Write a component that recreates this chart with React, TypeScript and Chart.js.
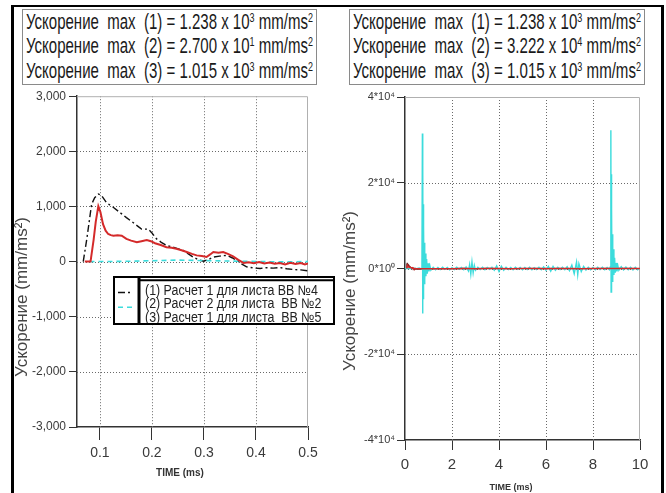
import React, { useEffect, useLayoutEffect, useRef } from 'react';
import { Chart, registerables } from 'chart.js';

Chart.register(...registerables);

// ---------------- Left panel data (TIME, ms / acceleration, mm/ms^2) ----------------
const L_TIME_1 = [0.068, 0.075, 0.084, 0.090, 0.097, 0.103, 0.113, 0.125, 0.140, 0.151, 0.165, 0.180, 0.193, 0.200, 0.209, 0.218, 0.228, 0.245, 0.260, 0.270, 0.279, 0.290, 0.299, 0.309, 0.318, 0.330, 0.344, 0.354, 0.363, 0.372, 0.382, 0.395, 0.408, 0.420, 0.433, 0.446, 0.459, 0.472, 0.486, 0.500];
const L_ACC_1 = [0, 420, 1036, 1160, 1226, 1200, 1065, 990, 880, 798, 700, 589, 589, 520, 411, 350, 292, 250, 202, 140, 83, 30, 6, 40, 83, 100, 113, 70, 24, -40, -95, -115, -125, -110, -118, -107, -130, -143, -150, -167];

const L_TIME_2 = [0.080, 0.150, 0.250, 0.350, 0.450, 0.500];
const L_ACC_2 = [0, 5, 27, 10, -5, 0];

const L_TIME_3 = [0.071, 0.082, 0.088, 0.092, 0.097, 0.101, 0.106, 0.111, 0.116, 0.121, 0.126, 0.134, 0.142, 0.151, 0.160, 0.171, 0.180, 0.190, 0.198, 0.206, 0.217, 0.228, 0.238, 0.247, 0.257, 0.267, 0.277, 0.286, 0.296, 0.305, 0.312, 0.318, 0.328, 0.337, 0.346, 0.356, 0.366, 0.376, 0.386, 0.396, 0.406, 0.416, 0.426, 0.436, 0.446, 0.456, 0.466, 0.476, 0.486, 0.494, 0.500];
const L_ACC_3 = [0, 0, 400, 720, 1005, 900, 679, 560, 500, 480, 470, 480, 470, 411, 380, 351, 370, 393, 370, 333, 300, 262, 250, 232, 205, 173, 140, 113, 100, 83, 130, 173, 160, 173, 140, 95, 30, -24, -10, -30, -6, -35, -15, -40, -24, -50, -20, -45, -25, -50, -36];

const L_X_TICKS = [0.1, 0.2, 0.3, 0.4, 0.5];
const L_X_LABELS = ['0.1', '0.2', '0.3', '0.4', '0.5'];
const L_Y_TICKS = [-3000, -2000, -1000, 0, 1000, 2000, 3000];
const L_Y_LABELS = ['-3,000', '-2,000', '-1,000', '0', '1,000', '2,000', '3,000'];

// ---------------- Right panel data (0–10 ms) ----------------
const R_TIME_1_TAIL = [0.6, 0.8, 1.0, 1.5, 2.0, 2.5, 3.0, 3.5, 4.0, 5.0, 6.0, 7.0, 8.0, 9.0, 10.0];
const R_ACC_1_TAIL = [-170, -140, -110, -60, -30, 20, -20, 10, -10, 0, 10, -10, 0, 10, 0];

const R_TIME_2 = [0.0, 0.1, 0.2, 0.3, 0.4, 0.5, 0.6, 0.7, 0.72, 0.74, 0.75, 0.76, 0.77, 0.78, 0.79, 0.80, 0.81, 0.83, 0.85, 0.87, 0.89, 0.92, 0.95, 0.98, 1.02, 1.06, 1.1, 1.2, 1.3, 1.4, 1.5, 1.6, 1.7, 1.8, 1.9, 2.0, 2.1, 2.2, 2.3, 2.4, 2.5, 2.6, 2.7, 2.75, 2.8, 2.85, 2.9, 2.95, 3.0, 3.1, 3.2, 3.3, 3.4, 3.5, 3.6, 3.7, 3.8, 3.9, 4.0, 4.1, 4.2, 4.3, 4.4, 4.5, 4.6, 4.7, 4.8, 4.9, 5.0, 5.1, 5.2, 5.3, 5.4, 5.5, 5.6, 5.7, 5.8, 5.9, 6.0, 6.1, 6.2, 6.3, 6.4, 6.5, 6.6, 6.7, 6.8, 6.9, 7.0, 7.1, 7.2, 7.3, 7.35, 7.4, 7.5, 7.6, 7.7, 7.8, 7.9, 8.0, 8.1, 8.2, 8.3, 8.4, 8.5, 8.6, 8.7, 8.74, 8.76, 8.77, 8.78, 8.79, 8.80, 8.81, 8.83, 8.85, 8.87, 8.89, 8.92, 8.95, 8.98, 9.02, 9.06, 9.1, 9.2, 9.3, 9.4, 9.5, 9.6, 9.7, 9.8, 9.9, 10.0];
const R_ACC_2 = [0, 0, 50, -50, 80, -60, 100, -100, 400, 31500, -10500, 24000, -7000, 15000, -5000, 10000, -3500, 6000, -2500, 3500, -1800, 2200, -1200, 1200, -700, 600, -400, 300, -300, 250, -250, 300, -200, 250, -300, 200, -250, 300, -200, 250, -300, 350, -600, 900, -1300, 1500, -1000, 700, -400, 300, -250, 300, -300, 250, -200, 300, -400, 600, -700, 500, -400, 300, -250, 250, -300, 300, -200, 250, -300, 250, -250, 300, -300, 200, -250, 300, -300, 350, -400, 500, -600, 500, -400, 300, -250, 300, -300, 400, -500, 800, -1200, 1500, -1400, 1100, -700, 500, -350, 300, -300, 250, -300, 300, -250, 300, -300, 250, -300, 400, 32220, -5500, 22000, -4000, 14000, -3000, 8000, -2000, 4500, -1500, 2500, -1000, 1300, -700, 600, -400, 400, -300, 350, -300, 300, -350, 300, -300, 200];

const R_TIME_3_TAIL = [0.6, 0.8, 1.0, 1.5, 2.0, 2.5, 3.0, 3.5, 4.0, 4.5, 5.0, 5.5, 6.0, 6.5, 7.0, 7.5, 8.0, 8.5, 9.0, 9.5, 10.0];
const R_ACC_3_TAIL = [-40, -60, -50, -30, -40, -20, -30, -10, -20, -30, -10, -20, -30, -10, -20, -30, -10, -20, -10, -20, -10];

const R_X_TICKS = [0, 2, 4, 6, 8, 10];
const R_X_LABELS = ['0', '2', '4', '6', '8', '10'];
const R_Y_TICKS = [-40000, -20000, 0, 20000, 40000];
const R_Y_LABELS = ['-4*10⁴', '-2*10⁴', '0*10⁰', '2*10⁴', '4*10⁴'];

const SERIES_LABELS = ['(1) Расчет 1 для листа ВВ №4', '(2) Расчет 2 для листа  ВВ №2', '(3) Расчет 1 для листа  ВВ №5'];
const MAX_LEFT = [['1', '1.238', '3'], ['2', '2.700', '1'], ['3', '1.015', '3']];
const MAX_RIGHT = [['1', '1.238', '3'], ['2', '3.222', '4'], ['3', '1.015', '3']];

const Y_TITLE = 'Ускорение (mm/ms²)';
const X_TITLE = 'TIME (ms)';

// ---------------- styles ----------------
const REGULAR = "Arial, 'Liberation Sans', sans-serif";
const BLACK = '#111111';
const CYAN = '#3cdcdc';
const RED = '#d42a2a';

const pts = (t: number[], a: number[]) => t.map((x, i) => ({ x, y: a[i] }));

// light grey frame on top / right of plot + dotted inner grid
const framePlugin = {
  id: 'plotFrame',
  beforeDatasetsDraw(chart: any) {
    const { ctx, chartArea: a, scales } = chart;
    ctx.save();
    ctx.strokeStyle = '#6a6a6a';
    ctx.lineWidth = 1;
    ctx.setLineDash([1, 2]);
    scales.x.ticks.forEach((t: any) => {
      const px = Math.round(scales.x.getPixelForValue(t.value)) + 0.5;
      if (px <= a.left + 1 || px >= a.right - 1) return;
      ctx.beginPath();
      ctx.moveTo(px, a.top);
      ctx.lineTo(px, a.bottom);
      ctx.stroke();
    });
    scales.y.ticks.forEach((t: any) => {
      const py = Math.round(scales.y.getPixelForValue(t.value)) + 0.5;
      if (py <= a.top + 1 || py >= a.bottom - 1) return;
      ctx.beginPath();
      ctx.moveTo(a.left, py);
      ctx.lineTo(a.right, py);
      ctx.stroke();
    });
    ctx.setLineDash([]);
    ctx.strokeStyle = '#b0b0b0';
    ctx.beginPath();
    ctx.moveTo(a.left, a.top + 0.5);
    ctx.lineTo(a.right - 0.5, a.top + 0.5);
    ctx.lineTo(a.right - 0.5, a.bottom);
    ctx.stroke();
    ctx.restore();
  },
};

const titlesPlugin = {
  id: 'axisTitles',
  afterDraw(chart: any, _a: any, o: any) {
    const ctx = chart.ctx;
    ctx.save();
    ctx.fillStyle = '#444';
    ctx.textAlign = 'center';
    ctx.textBaseline = 'middle';
    ctx.translate(o.yx, o.yy);
    ctx.rotate(-Math.PI / 2);
    ctx.font = o.yFont;
    ctx.fillText(Y_TITLE, 0, 0);
    ctx.restore();
    ctx.save();
    ctx.fillStyle = '#333';
    ctx.textAlign = 'center';
    ctx.textBaseline = 'middle';
    ctx.font = o.xFont;
    ctx.fillText(X_TITLE, o.xx, o.xy);
    ctx.restore();
  },
};

const legendPlugin = {
  id: 'legendBox',
  afterDraw(chart: any, _a: any, o: any) {
    if (!o || !o.display) return;
    const ctx = chart.ctx;
    const { x, y, w, h, divX, textX, textW, baselines, swatchY, swatchX0, swatchX1 } = o;
    const datasets = chart.data.datasets;
    ctx.save();
    ctx.fillStyle = '#fff';
    ctx.fillRect(x, y, w, h);
    ctx.beginPath();
    ctx.rect(x + 2, y + 2, w - 4, h - 4);
    ctx.clip();
    ctx.font = `14px ${REGULAR}`;
    const m = ctx.measureText(datasets[0].label).width;
    const sx = m > 0 ? textW / m : 1;
    ctx.fillStyle = '#222';
    ctx.textBaseline = 'alphabetic';
    datasets.forEach((ds: any, i: number) => {
      ctx.save();
      ctx.translate(textX, baselines[i]);
      ctx.scale(sx, 1);
      ctx.fillText(ds.label, 0, 0);
      ctx.restore();
      const sy = swatchY[i];
      if (sy < y + h - 4) {
        ctx.save();
        ctx.strokeStyle = ds.borderColor;
        ctx.lineWidth = ds.borderWidth;
        ctx.setLineDash(ds.borderDash || []);
        ctx.beginPath();
        ctx.moveTo(swatchX0, sy);
        ctx.lineTo(swatchX1[i], sy);
        ctx.stroke();
        ctx.restore();
      }
    });
    ctx.restore();
    ctx.save();
    ctx.strokeStyle = '#000';
    ctx.lineWidth = 2;
    ctx.strokeRect(x + 1, y + 1, w - 2, h - 2);
    ctx.lineWidth = 3;
    ctx.beginPath();
    ctx.moveTo(divX, y);
    ctx.lineTo(divX, y + h);
    ctx.stroke();
    ctx.lineWidth = 2;
    ctx.beginPath();
    ctx.moveTo(divX, y + 4.3);
    ctx.lineTo(x + w - 1, y + 4.3);
    ctx.stroke();
    ctx.restore();
  },
};

function axisCommon(ticks: number[], labels: string[], font: any, tickLength: number, padding: number, fit: (s: any) => void) {
  return {
    type: 'linear',
    afterBuildTicks: (s: any) => {
      s.ticks = ticks.map((v) => ({ value: v }));
    },
    afterFit: fit,
    ticks: {
      callback: (_v: any, i: number) => labels[i],
      font,
      color: '#3a3a3a',
      padding,
      autoSkip: false,
      maxRotation: 0,
      minRotation: 0,
    },
    grid: { drawOnChartArea: false, color: '#333', tickColor: '#333', tickLength, lineWidth: 1, tickWidth: 1 },
    border: { color: '#333', width: 1.5 },
  };
}

function makeLeft(): any {
  return {
    type: 'line',
    data: {
      datasets: [
        { label: SERIES_LABELS[0], data: pts(L_TIME_1, L_ACC_1), borderColor: BLACK, borderWidth: 1.4, borderDash: [7, 3, 2, 3], pointRadius: 0, order: 3 },
        { label: SERIES_LABELS[1], data: pts(L_TIME_2, L_ACC_2), borderColor: CYAN, borderWidth: 1.6, borderDash: [5, 4], pointRadius: 0, order: 2 },
        { label: SERIES_LABELS[2], data: pts(L_TIME_3, L_ACC_3), borderColor: RED, borderWidth: 2, pointRadius: 0, order: 1 },
      ],
    },
    options: {
      animation: false,
      responsive: false,
      devicePixelRatio: 1,
      events: [],
      layout: { autoPadding: false, padding: { top: 5, right: 29, left: 0, bottom: 0 } },
      plugins: {
        legend: { display: false },
        tooltip: { enabled: false },
        axisTitles: { yx: 8, yy: 211, yFont: `17px ${REGULAR}`, xx: 166, xy: 387, xFont: `bold 10px ${REGULAR}` },
        legendBox: {
          display: true, x: 99, y: 190, w: 222, h: 49, divX: 125, textX: 131, textW: 173,
          baselines: [209, 222.3, 235.8], swatchY: [206.5, 221.3, 236.5], swatchX0: 104, swatchX1: [116, 119.5, 119.5],
        },
      },
      scales: {
        x: { ...axisCommon(L_X_TICKS, L_X_LABELS, { size: 14, family: REGULAR }, 13, 5, (s: any) => { s.height = 66; }), min: 0.056, max: 0.5 },
        y: { ...axisCommon(L_Y_TICKS, L_Y_LABELS, { size: 12, family: REGULAR }, 8, 3, (s: any) => { s.width = 63; }), min: -3000, max: 3000 },
      },
    },
    plugins: [framePlugin, titlesPlugin, legendPlugin],
  };
}

function makeRight(): any {
  return {
    type: 'line',
    data: {
      datasets: [
        { label: SERIES_LABELS[0], data: pts([...L_TIME_1, ...R_TIME_1_TAIL], [...L_ACC_1, ...R_ACC_1_TAIL]), borderColor: '#5a1a1a', borderWidth: 1.2, pointRadius: 0, order: 3 },
        { label: SERIES_LABELS[1], data: pts(R_TIME_2, R_ACC_2), borderColor: CYAN, borderWidth: 1.4, pointRadius: 0, order: 2 },
        { label: SERIES_LABELS[2], data: pts([...L_TIME_3, ...R_TIME_3_TAIL], [...L_ACC_3, ...R_ACC_3_TAIL]), borderColor: RED, borderWidth: 1.5, pointRadius: 0, order: 1 },
      ],
    },
    options: {
      animation: false,
      responsive: false,
      devicePixelRatio: 1,
      events: [],
      layout: { autoPadding: false, padding: { top: 11, right: 21, left: 0, bottom: 0 } },
      plugins: {
        legend: { display: false },
        tooltip: { enabled: false },
        axisTitles: { yx: 12, yy: 205, yFont: `17px ${REGULAR}`, xx: 173, xy: 402, xFont: `bold 9px ${REGULAR}` },
        legendBox: { display: false },
      },
      scales: {
        x: { ...axisCommon(R_X_TICKS, R_X_LABELS, { size: 15, family: REGULAR }, 10, 6, (s: any) => { s.height = 53; }), min: 0, max: 10 },
        y: { ...axisCommon(R_Y_TICKS, R_Y_LABELS, { size: 11, family: REGULAR }, 8, 2, (s: any) => { s.width = 67; }), min: -40000, max: 40000 },
      },
    },
    plugins: [framePlugin, titlesPlugin, legendPlugin],
  };
}

function ChartBox({ left, top, width, height, make }: any) {
  const ref = useRef<HTMLCanvasElement>(null);
  useEffect(() => {
    const chart = new Chart(ref.current as HTMLCanvasElement, make());
    return () => chart.destroy();
  }, []);
  return (
    <div style={{ position: 'absolute', left, top, width, height }}>
      <canvas ref={ref} width={width} height={height} style={{ display: 'block', width, height }} />
    </div>
  );
}

function FitLine({ target, children }: any) {
  const ref = useRef<HTMLSpanElement>(null);
  useLayoutEffect(() => {
    const el = ref.current;
    if (!el) return;
    el.style.transform = 'none';
    const w = el.getBoundingClientRect().width;
    if (w > 0) el.style.transform = `scaleX(${target / w})`;
  }, [target]);
  return (
    <div style={{ height: 24.3, lineHeight: '24.3px', whiteSpace: 'pre', overflow: 'visible' }}>
      <span ref={ref} style={{ display: 'inline-block', transformOrigin: '0 50%' }}>{children}</span>
    </div>
  );
}

const supStyle: any = { fontSize: '0.6em', verticalAlign: '0.55em', lineHeight: 0 };

function Header({ left, top, width, height, rows }: any) {
  return (
    <div style={{ position: 'absolute', left, top, width, height, boxSizing: 'border-box', border: '1.5px solid #8a8a8a', background: '#fff', padding: '0 0 0 3px', fontFamily: REGULAR, fontSize: 21.5, color: '#1a1a1a' }}>
      {rows.map((r: string[], i: number) => (
        <FitLine key={i} target={width - 8}>
          {`Ускорение  max  (${r[0]}) = ${r[1]} x 10`}<sup style={supStyle}>{r[2]}</sup>{' mm/ms'}<sup style={supStyle}>2</sup>
        </FitLine>
      ))}
    </div>
  );
}

export default function App() {
  return (
    <div style={{ position: 'absolute', left: 0, top: 0, width: 666, height: 493, overflow: 'hidden', background: '#fff', fontFamily: REGULAR }}>
      <div style={{ position: 'absolute', left: 11, top: 5, width: 647, height: 560, borderTop: '2.5px solid #000', borderLeft: '3px solid #000', borderRight: '3px solid #000' }} />
      <ChartBox left={14} top={86} width={323} height={407} make={makeLeft} />
      <ChartBox left={338} top={86} width={323} height={407} make={makeRight} />
      <Header left={22} top={9} width={295} height={76} rows={MAX_LEFT} />
      <Header left={349} top={9} width={296} height={76} rows={MAX_RIGHT} />
    </div>
  );
}
